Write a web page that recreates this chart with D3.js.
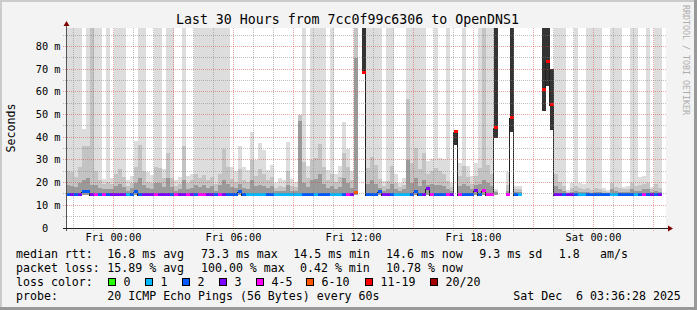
<!DOCTYPE html>
<html>
<head>
<meta charset="utf-8">
<script src="https://cdn.jsdelivr.net/npm/d3@7"></script>
<style>
  html, body { margin: 0; padding: 0; background: #f3f3f3; }
  svg { display: block; }
  text { font-family: "DejaVu Sans Mono", monospace; fill: #000; white-space: pre; }
</style>
</head>
<body>
<div id="chart"></div>
<script>
// SmokePing "Last 30 Hours" — 12 minute steps (150 of them)
const INF = Infinity;               // pings lost -> smoke goes off the top
const startTime = new Date(2025, 11, 4, 21, 36);
const endTime   = new Date(2025, 11, 6, 3, 36);
const stepMinutes = 12;
const yMax   = 88.2;                // ms at top of canvas
const minRtt = 14.5;                // bottom of the smoke

const medianMs = [
  14.7,14.6,14.7,14.6,16.0,15.8,14.6,14.7,14.6,14.7,
  14.6,14.7,14.6,14.6,14.7,14.6,14.7,15.8,14.6,14.7,
  14.7,14.6,14.7,14.6,14.7,14.6,14.6,14.7,14.6,14.7,
  14.7,14.6,14.6,14.7,14.7,14.6,14.6,14.7,14.7,14.6,
  14.6,14.7,14.6,16.0,14.7,14.6,14.6,14.7,14.6,14.6,
  14.7,14.6,14.6,14.7,14.6,14.6,14.6,14.7,14.6,14.7,
  14.6,14.7,14.6,14.6,14.7,14.6,14.6,14.6,14.7,14.6,
  14.7,14.6,15.6,null,68.5,14.6,14.6,14.7,15.8,14.6,
  14.6,14.7,14.6,14.6,14.6,14.7,14.6,16.0,14.6,14.7,
  17.0,14.7,14.6,14.6,14.6,14.7,14.7,42.3,14.7,14.6,
  14.6,14.6,16.5,14.6,16.3,14.7,14.7,44.1,null,null,
  14.7,48.7,14.6,14.6,null,null,null,null,null,60.8,
  73.2,54.4,14.6,14.6,14.6,14.6,14.6,14.6,14.6,14.6,
  14.6,14.6,14.6,14.6,14.6,14.6,14.6,14.6,14.6,14.6,
  14.6,14.6,14.6,14.6,14.6,14.6,14.6,14.6,14.6,null
];

// lost pings out of 20 (drives the colour of the median)
const lostPings = [
  2,3,2,3,2,2,3,4,2,4,
  2,3,3,3,3,1,2,2,2,3,
  3,3,4,3,3,3,2,4,3,3,
  4,3,2,4,4,3,3,2,4,3,
  2,2,2,2,2,1,1,1,1,1,
  2,2,1,1,1,1,1,1,1,2,
  2,2,1,2,2,2,1,1,1,2,
  4,3,8,null,15,2,2,2,2,3,
  3,2,1,1,1,1,2,2,2,3,
  3,4,2,2,2,4,3,15,4,2,
  2,2,3,2,4,4,4,15,null,null,
  4,15,2,1,null,null,null,null,null,15,
  15,15,3,3,2,3,3,2,1,1,
  2,2,2,2,2,2,1,1,2,2,
  2,2,1,2,4,2,3,2,3,null
];

// smoke: outer / middle / inner band tops (ms)
const smokeTop = [
  INF,INF,INF,INF,43.6,INF,INF,INF,INF,21.5,
  INF,22,INF,INF,INF,21,23,38.4,INF,INF,
  24.5,23.5,INF,INF,26,INF,INF,21,22.5,INF,
  23,24,INF,INF,INF,INF,INF,INF,INF,INF,
  INF,27,25,36,27,25.5,42.4,30,37.7,34.5,
  25.5,28,20,22,21,38,21.5,20.5,50,INF,
  27.5,INF,INF,INF,INF,25.5,INF,24,27.5,46.7,
  35,25,INF,null,null,INF,INF,INF,INF,20.8,
  INF,INF,23.7,20,22,INF,INF,INF,INF,INF,
  29.4,30.3,INF,31,30.3,INF,20,null,28.8,INF,
  27.3,23,28.8,INF,INF,INF,INF,17,null,null,
  24.8,null,18.5,18.5,null,null,null,null,null,null,
  null,null,INF,INF,INF,16.9,19.7,INF,20,19.5,
  INF,INF,INF,INF,17.8,16.9,INF,INF,INF,18.3,
  18.7,INF,INF,22.7,23,INF,18.3,INF,INF,null
];

const smokeMid = [
  25,24.5,22.5,27,36,36,INF,25,21,19.5,
  20.5,19.5,24,26,22.5,18.5,20,27,36.5,25,
  20.5,20,27,26.5,22,33,22,18.5,19.5,36,
  20,21,24,22,23.5,21,22.5,19.5,24,35,
  27,21.5,20.5,26,21,20.5,30,23,26,24,
  21,22.5,17.5,18.5,18,25,18.5,18,50,29,
  22,30,31,37,27,21,24,20.5,22.5,33,
  27,21,INF,null,null,26.6,31.4,28,21.5,18.5,
  20.8,27.3,20,18,19,56.8,28.8,35.4,25.8,33,
  24,25,26.5,25,24,20.8,18,null,23,27.5,
  22.5,19.5,23,26.6,INF,28,23.7,16.5,null,null,
  19,null,17,17,null,null,null,null,null,null,
  null,null,24,20.5,18.7,16,17.5,18.7,17.5,17,
  17.7,16.9,17.7,17.2,16.5,16,19.7,18.3,17.7,17,
  17.2,19.7,18.5,19,19.5,19.7,17.3,19.5,17.7,null
];

const smokeCore = [
  19,18.5,18,20,21,22,19,19,17.5,17,
  17,17,18.5,19.5,18,16.5,17.5,20,22,19,
  17.5,17,20,20,18,22,18,16.5,17,21,
  17,17.5,19,18,19,17.5,18.5,16.5,19,21,
  19.5,18,17.5,19.5,17.5,17,21,18.5,19,18.5,
  17.5,18.5,16.5,16.5,16.5,19,16.5,16.5,47,20,
  18,21,21.5,24,19.5,17.5,18.5,17,18,22,
  20,17.5,75,null,null,19.5,21,19.5,17.5,16.5,
  17,19.5,17,16.5,17,30,20,22,18.5,21,
  19,19.5,19,19,18.5,17,16.5,null,18.5,19.5,
  18.5,17,19,19.5,21,20,18.5,16,null,null,
  16.5,null,16,16,null,null,null,null,null,null,
  null,null,18.5,17,16.5,15.3,16,16.5,16,15.8,
  16,15.5,16,15.8,15.5,15.3,17,16.5,16,15.8,
  15.8,17,16.5,16.5,17,17,16,16.5,16,null
];

// steps with heavy loss: dark smoke from lo to hi (ms)
const heavySteps = [74, 97, 107, 111, 119, 120, 121];
const heavyLo    = [68.5, 36.7, 39.6, 42.5, 51.7, 62.6, 43.2];
const heavyHi    = [INF, 42.3, INF, INF, INF, INF, 70];

const yTicks = [0, 10, 20, 30, 40, 50, 60, 70, 80];
const xTickTimes  = [new Date(2025,11,5,0), new Date(2025,11,5,6), new Date(2025,11,5,12),
                     new Date(2025,11,5,18), new Date(2025,11,6,0)];
const xTickLabels = ['Fri 00:00', 'Fri 06:00', 'Fri 12:00', 'Fri 18:00', 'Sat 00:00'];

const lossLabels = ['0', '1', '2', '3', '4-5', '6-10', '11-19', '20/20'];
const lossColors = ['#26ff00', '#00b8ff', '#0059ff', '#7e00ff', '#ff00ff', '#ff5500', '#ff0000', '#a10000'];
const lossUpper  = [0, 1, 2, 3, 5, 10, 19, 20];

const rttLegend  = ['16.8 ms avg', '73.3 ms max', '14.5 ms min', '14.6 ms now', '9.3 ms sd', '1.8', 'am/s'];
const lossLegend = ['15.89 % avg', '100.00 % max', '0.42 % min', '10.78 % now'];
const probeText  = '20 ICMP Echo Pings (56 Bytes) every 60s';
const stampText  = 'Sat Dec  6 03:36:28 2025';

// ---------------------------------------------------------------------------
const W = 697, H = 310;
const L = 66, R = 666, T = 28, B = 228;

const svg = d3.select('#chart').append('svg')
    .attr('width', W).attr('height', H)
    .attr('viewBox', `0 0 ${W} ${H}`);

// frame
svg.append('rect').attr('width', W).attr('height', H).attr('fill', '#f3f3f3');
svg.append('rect').attr('x', 0).attr('y', 0).attr('width', W).attr('height', 2).attr('fill', '#cbcbcb');
svg.append('rect').attr('x', 0).attr('y', 0).attr('width', 2).attr('height', H).attr('fill', '#cbcbcb');
svg.append('rect').attr('x', 0).attr('y', H - 3).attr('width', W).attr('height', 3).attr('fill', '#999');
svg.append('rect').attr('x', W - 3).attr('y', 0).attr('width', 3).attr('height', H).attr('fill', '#999');

const x = d3.scaleTime().domain([startTime, endTime]).range([L, R]);
const y = d3.scaleLinear().domain([0, yMax]).range([B, T]);
const yc = v => y(Math.min(v, yMax));

svg.append('defs').append('clipPath').attr('id', 'plotClip')
  .append('rect').attr('x', L).attr('y', T).attr('width', R - L).attr('height', B - T);

svg.append('rect').attr('x', L).attr('y', T).attr('width', R - L).attr('height', B - T).attr('fill', '#fff');

const steps = medianMs.map((m, i) => ({
    i,
    t0: d3.timeMinute.offset(startTime, i * stepMinutes),
    t1: d3.timeMinute.offset(startTime, (i + 1) * stepMinutes)
}));

const g = svg.append('g').attr('clip-path', 'url(#plotClip)').attr('shape-rendering', 'crispEdges');

// smoke bands, outer first
const bands = [
    { values: smokeTop,  color: '#dddddd' },
    { values: smokeMid,  color: '#c3c3c3' },
    { values: smokeCore, color: '#9a9a9a' }
];
bands.forEach(band => {
    g.append('g').selectAll('rect')
      .data(steps.filter(d => band.values[d.i] != null))
      .join('rect')
        .attr('x', d => x(d.t0))
        .attr('width', d => x(d.t1) - x(d.t0))
        .attr('y', d => yc(band.values[d.i]))
        .attr('height', d => y(minRtt) - yc(band.values[d.i]))
        .attr('fill', band.color);
});

// heavy loss
g.append('g').selectAll('rect')
  .data(heavySteps.map((s, k) => ({ s, lo: heavyLo[k], hi: heavyHi[k] })))
  .join('rect')
    .attr('x', d => x(steps[d.s].t0))
    .attr('width', d => x(steps[d.s].t1) - x(steps[d.s].t0))
    .attr('y', d => yc(d.hi))
    .attr('height', d => y(d.lo) - yc(d.hi))
    .attr('fill', '#333');

// black median line (step)
const linePts = [];
steps.forEach(d => {
    const m = medianMs[d.i];
    if (m == null) { linePts.push(null); return; }
    linePts.push([x(d.t0), m]);
    if (medianMs[d.i + 1] == null) { linePts.push([x(d.t1), m]); linePts.push(null); }
});
g.append('path')
    .datum(linePts)
    .attr('fill', 'none')
    .attr('stroke', '#202020')
    .attr('stroke-width', 1)
    .attr('d', d3.line()
        .defined(p => p != null)
        .x(p => Math.round(p[0]) - 0.5)
        .y(p => Math.round(y(p[1])) + 0.5)
        .curve(d3.curveStepAfter));

// coloured median by loss
const lossClass = n => lossUpper.findIndex(u => n <= u);
g.append('g').selectAll('rect')
  .data(steps.filter(d => medianMs[d.i] != null))
  .join('rect')
    .attr('x', d => x(d.t0))
    .attr('width', d => x(d.t1) - x(d.t0))
    .attr('y', d => Math.round(y(medianMs[d.i])) - 2)
    .attr('height', 3)
    .attr('fill', d => lossColors[lossClass(lostPings[d.i])]);

// grid
const grid = svg.append('g').attr('fill', 'none').attr('stroke-dasharray', '1,1');
d3.timeHour.range(d3.timeHour.ceil(startTime), endTime).forEach(h => {
    const major = h.getHours() % 3 === 0;
    const xx = Math.round(x(h)) - 0.5;
    grid.append('line')
        .attr('x1', xx).attr('x2', xx).attr('y1', T).attr('y2', B + 3)
        .attr('stroke', major ? 'rgba(220,50,50,0.45)' : 'rgba(130,130,130,0.5)');
});
d3.range(5, yMax, 5).forEach(v => {
    const major = v % 10 === 0;
    const yy = Math.floor(y(v)) + 0.5;
    grid.append('line')
        .attr('x1', L - 3).attr('x2', R).attr('y1', yy).attr('y2', yy)
        .attr('stroke', major ? 'rgba(220,50,50,0.45)' : 'rgba(130,130,130,0.5)');
});

// axes + arrows
svg.append('line').attr('x1', L + 0.5).attr('x2', L + 0.5).attr('y1', B + 3).attr('y2', T - 4)
    .attr('stroke', '#555');
svg.append('line').attr('x1', L - 3).attr('x2', R + 4).attr('y1', B + 0.5).attr('y2', B + 0.5)
    .attr('stroke', '#222');
svg.append('path').attr('d', `M${L - 2.5},${T - 2} L${L + 3.5},${T - 2} L${L + 0.5},${T - 7} Z`)
    .attr('fill', '#7f0000');
svg.append('path').attr('d', `M${R + 2},${B - 2.5} L${R + 2},${B + 3.5} L${R + 7},${B + 0.5} Z`)
    .attr('fill', '#7f0000');

// tick labels
svg.append('g').selectAll('text').data(yTicks).join('text')
    .attr('x', 60.5)
    .attr('y', v => Math.floor(y(v)) + 4)
    .attr('text-anchor', 'end')
    .attr('xml:space', 'preserve')
    .attr('font-size', '10.3px')
    .text(v => v === 0 ? '0\u00a0\u00a0' : `${v} m`);

svg.append('g').selectAll('text').data(xTickTimes).join('text')
    .attr('x', t => Math.round(x(t)) - 0.5)
    .attr('y', 241)
    .attr('text-anchor', 'middle')
    .attr('font-size', '10.3px')
    .text((t, i) => xTickLabels[i]);

// titles
svg.append('text').attr('x', 347.5).attr('y', 24).attr('text-anchor', 'middle')
    .attr('font-size', '13.25px').text('Last 30 Hours from 7cc0f99c6306 to OpenDNS1');
svg.append('text').attr('transform', 'translate(15,128) rotate(-90)').attr('text-anchor', 'middle')
    .attr('font-size', '11.6px').text('Seconds');
svg.append('text').attr('transform', 'translate(683,5) rotate(90)')
    .attr('font-size', '8.3px').style('fill', '#adadad').text('RRDTOOL / TOBI OETIKER');

// legend
const leg = svg.append('g').attr('font-size', '11.6px');
const put = (xx, yy, s) => leg.append('text').attr('x', xx).attr('y', yy)
    .attr('xml:space', 'preserve').text(s.replace(/ /g, '\u00a0'));

put(16, 258, 'median rtt:');
[107.3, 201, 293.3, 386, 479.3, 558.7, 600].forEach((xx, i) => put(xx, 258, rttLegend[i]));
put(16, 272, 'packet loss:');
[107.3, 201, 300, 386].forEach((xx, i) => put(xx, 272, lossLegend[i]));
put(16, 286, 'loss color:');
const boxX = [108.5, 145.5, 182.5, 219.5, 256.5, 306.5, 365.5, 430.5];
boxX.forEach((bx, i) => {
    leg.append('rect').attr('x', bx).attr('y', 278.5).attr('width', 7).attr('height', 7)
        .attr('fill', lossColors[i]).attr('stroke', '#000').attr('stroke-width', 1);
    put(bx + 15, 286, lossLabels[i]);
});
put(16, 300, 'probe:');
put(107.3, 300, probeText);
put(513.3, 300, stampText);
</script>
</body>
</html>
